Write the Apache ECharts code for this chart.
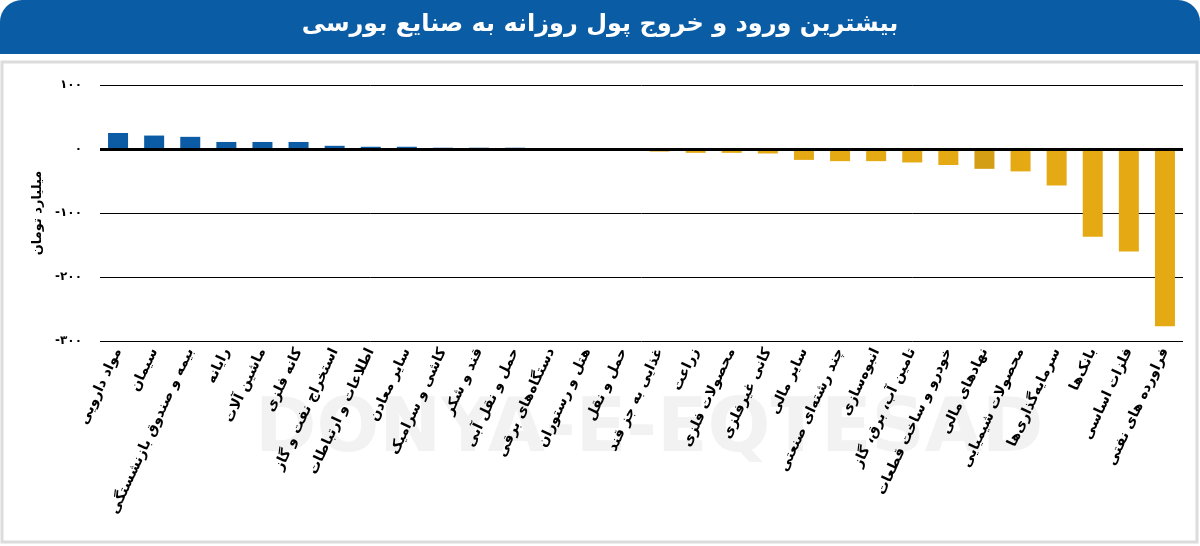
<!DOCTYPE html>
<html>
<head>
<meta charset="utf-8">
<script src="https://cdn.jsdelivr.net/npm/echarts@6/dist/echarts.min.js"></script>
<style>
  html, body { margin: 0; padding: 0; background: #fff; }
  #chart { width: 1200px; height: 546px; }
</style>
</head>
<body>
<div id="chart"></div>
<script>
const title = 'بیشترین ورود و خروج پول روزانه به صنایع بورسی'
const yName = 'میلیارد تومان'
const industries = [
  'مواد دارویی', 'سیمان', 'بیمه و صندوق بازنشستگی', 'رایانه', 'ماشین آلات',
  'کانه فلزی', 'استخراج نفت و گاز', 'اطلاعات و ارتباطات', 'سایر معادن', 'کاشی و سرامیک',
  'قند و شکر', 'حمل و نقل آبی', 'دستگاه‌های برقی', 'هتل و رستوران', 'حمل و نقل',
  'غذایی به جز قند', 'زراعت', 'محصولات فلزی', 'کانی غیرفلزی', 'سایر مالی',
  'چند رشته‌ای صنعتی', 'انبوه‌سازی', 'تامین آب، برق، گاز', 'خودرو و ساخت قطعات', 'نهادهای مالی',
  'محصولات شیمیایی', 'سرمایه‌گذاری‌ها', 'بانک‌ها', 'فلزات اساسی', 'فراورده های نفتی'
]
const netFlow = [
  25, 21, 19, 11, 11,
  11, 5, 3.5, 3.5, 2,
  2, 2, 0, 0, 0,
  -4, -6, -6, -7, -17,
  -19, -19, -21, -25, -31,
  -35, -57, -137, -160, -277
]
const yTicks = [-300, -200, -100, 0, 100]
const yTickLabels = ['-۳۰۰', '-۲۰۰', '-۱۰۰', '۰', '۱۰۰']

const fa = '"DejaVu Sans", sans-serif'
const highlightIndex = 24

const chart = echarts.init(document.getElementById('chart'))
const barData = netFlow.map((v, i) => {
  let color = v >= 0 ? '#0b5ba5' : '#e4a913'
  if (i === highlightIndex) color = '#d49e14'
  return { value: v, itemStyle: { color: color } }
})

const option = {
  animation: false,
  backgroundColor: '#fff',
  graphic: [
    {
      type: 'rect',
      z: -10,
      shape: { x: 0, y: 0, width: 1200, height: 54, r: [22, 22, 0, 0] },
      style: { fill: '#0a5ca4' }
    },
    {
      type: 'rect',
      z: -10,
      shape: { x: 2, y: 62, width: 1195, height: 480 },
      style: { fill: '#fff', stroke: '#dcdcdc', lineWidth: 3 }
    },
    {
      type: 'text',
      z: -5,
      left: 255,
      top: 395,
      style: {
        text: 'DONYA-E-EQTESAD',
        fill: '#f2f2f2',
        font: 'bold 74px "DejaVu Sans", sans-serif'
      }
    }
  ],
  title: {
    text: title,
    left: 'center',
    top: 8,
    textStyle: {
      color: '#fff',
      fontFamily: fa,
      fontWeight: 'bold',
      fontSize: 24
    }
  },
  grid: {
    left: 100,
    right: 17,
    top: 85,
    bottom: 205
  },
  xAxis: {
    type: 'category',
    data: industries,
    axisLine: { show: false, onZero: false },
    axisTick: { show: false },
    axisLabel: {
      interval: 0,
      rotate: 65,
      margin: 8,
      color: '#000',
      fontFamily: fa,
      fontWeight: 'bold',
      fontSize: 14
    }
  },
  yAxis: {
    type: 'value',
    min: -300,
    max: 100,
    interval: 100,
    name: yName,
    nameLocation: 'middle',
    nameGap: 55,
    nameTextStyle: {
      color: '#000',
      fontFamily: fa,
      fontWeight: 'bold',
      fontSize: 13
    },
    axisLine: { show: false },
    axisTick: { show: false },
    axisLabel: {
      margin: 18,
      color: '#000',
      fontFamily: fa,
      fontSize: 12,
      fontWeight: 'bold',
      formatter: v => yTickLabels[yTicks.indexOf(v)]
    },
    splitLine: {
      lineStyle: { color: '#000', width: 1 }
    }
  },
  series: [
    {
      type: 'bar',
      data: barData,
      barWidth: 20,
      markLine: {
        silent: true,
        symbol: 'none',
        label: { show: false },
        lineStyle: { color: '#000', width: 3, type: 'solid' },
        data: [{ yAxis: 0 }]
      }
    }
  ]
}
chart.setOption(option)
</script>
</body>
</html>
